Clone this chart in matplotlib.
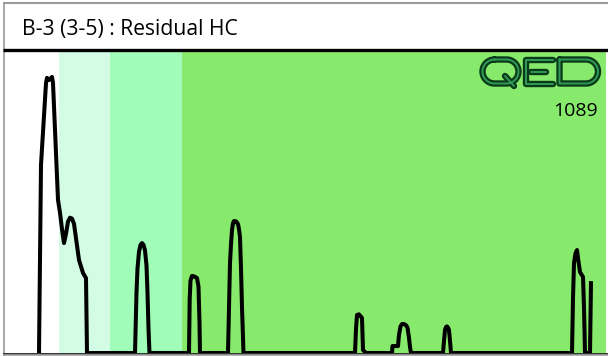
import matplotlib
matplotlib.use("Agg")
import matplotlib.pyplot as plt
from matplotlib.lines import Line2D
from matplotlib.patches import PathPatch
from matplotlib.path import Path
from matplotlib.transforms import Affine2D

# ---- data ----
title = "B-3 (3-5) : Residual HC"
label_value = "1089"

zone_edges = [4, 59, 110, 181, 606]
zone_colors = ["#ffffff", "#d4fce4", "#a0fcb8", "#88ea6c"]

depth = [39, 41, 46, 47, 49, 52, 53, 58, 60, 62, 64, 66, 68, 70, 72, 74, 76, 79, 83, 86, 87,
         135, 136.5, 137.5, 139, 140.5, 142, 143.5, 145, 146.5, 147.5, 148.5, 149.5,
         189, 189.7, 190.5, 192, 194, 197, 198.5, 199.5, 200,
         228, 229, 230, 231, 232, 233, 234, 236, 238, 239, 240, 241, 242, 243.5,
         355, 356, 357, 359, 362, 363, 366,
         392, 392.5, 397, 398, 399, 400.5, 402, 404, 406, 407.5, 409, 410, 411,
         443, 444, 445, 446, 447, 448, 449, 450, 451,
         572, 573, 574, 575.5, 577, 578, 580, 583, 584, 585,
         590, 591]
hc = [0, 62.3, 89.4, 91.1, 90.4, 91.4, 89.4, 50.7, 46.4, 41, 36.4, 39.5, 43.5, 44.8, 44.5, 42.8, 38, 30.8, 26.5, 24.8, 0,
      0, 20, 28, 33.5, 35.8, 36.4, 35.8, 34, 29, 20, 8, 0,
      0, 18, 24, 25.5, 25.4, 24.8, 22, 10, 0,
      0, 15, 29.8, 36, 40.7, 43, 43.7, 43.6, 42.7, 41, 38.4, 28, 15.2, 0,
      0, 8, 12.6, 12.8, 11.6, 1.0, 0,
      0, 2.3, 2.3, 2.3, 6, 8.8, 9.6, 9.6, 9.2, 8.4, 5, 2.0, 0,
      0, 4, 7.6, 8.6, 8.8, 8.4, 7.6, 4, 0,
      0, 18, 29.8, 33, 34.1, 31.5, 26.8, 25.2, 15, 0,
      0, 23.8]

W, H = 608, 356
fig = plt.figure(figsize=(W / 100, H / 100), dpi=100)
fig.patch.set_facecolor("white")

# plot area in pixels
x0, x1 = 4, 606
y_top, y_bot = 51, 353
ax = fig.add_axes([x0 / W, (H - y_bot) / H, (x1 - x0) / W, (y_bot - y_top) / H])
ax.set_xlim(zone_edges[0], zone_edges[-1])
ax.set_ylim(0, 100)
ax.set_xticks([])
ax.set_yticks([])
for s in ["left", "right", "top", "bottom"]:
    ax.spines[s].set_visible(False)

for i, c in enumerate(zone_colors):
    ax.axvspan(zone_edges[i], zone_edges[i + 1], color=c, lw=0, zorder=0)
ax.axvline(zone_edges[3], color="#a8f4c8", lw=0.8, zorder=1)

ax.plot(depth, hc, color="black", lw=2.9, solid_joinstyle="round",
        solid_capstyle="butt", zorder=3, clip_on=False)

# pixel -> figure transform (y measured from top)
pix = Affine2D().scale(1 / W, -1 / H).translate(0, 1) + fig.transFigure

def fline(xs, ys, color, lw):
    fig.add_artist(Line2D(xs, ys, transform=pix, color=color, lw=lw,
                          solid_capstyle="butt"))

fline([3.5, 3.5], [2, 356], "#9a9a9a", 1.2)
fline([3, 608], [2.5, 2.5], "#9a9a9a", 1.5)
fline([3, 608], [49.5, 49.5], "black", 2.4)
fline([3, 608], [353.5, 353.5], "#303030", 1.4)
fline([3, 608], [355.2, 355.2], "#a0a0a0", 1.2)

# title
fig.text(22 / W, 1 - 35.5 / H, title, fontsize=15.2, family="Open Sans",
         color="black", va="baseline", ha="left")

# value label
fig.text(598 / W, 1 - 116 / H, label_value, fontsize=14, family="Open Sans",
         color="black", va="baseline", ha="right")

# ---- QED logo drawn as tube-like strokes ----
M, L, C = Path.MOVETO, Path.LINETO, Path.CURVE4

def stadium(xa, xb, ya, yb):
    r = (yb - ya) / 2
    k = 0.5523 * r
    v = [(xa + r, ya), (xb - r, ya),
         (xb - r + k, ya), (xb, ya + r - k), (xb, ya + r),
         (xb, ya + r + k), (xb - r + k, yb), (xb - r, yb),
         (xa + r, yb),
         (xa + r - k, yb), (xa, ya + r + k), (xa, ya + r),
         (xa, ya + r - k), (xa + r - k, ya), (xa + r, ya)]
    c = [M, L, C, C, C, C, C, C, L, C, C, C, C, C, C]
    return Path(v, c)

paths = []
# Q
paths.append(stadium(482.5, 518.5, 59.5, 83.5))
paths.append(Path([(505, 76), (514, 86)], [M, L]))
# E
paths.append(Path([(553, 59.5), (526, 59.5), (526, 83.5), (553, 83.5)], [M, L, L, L]))
paths.append(Path([(531, 71.5), (546, 71.5)], [M, L]))
# D
r = 12.0
k = 0.5523 * r
paths.append(Path([(559.5, 59.5), (598 - r, 59.5),
                   (598 - r + k, 59.5), (598, 59.5 + r - k), (598, 59.5 + r),
                   (598, 59.5 + r + k), (598 - r + k, 83.5), (598 - r, 83.5),
                   (559.5, 83.5), (559.5, 59.5)],
                  [M, L, C, C, C, C, C, C, L, L]))

for p in paths:
    fig.add_artist(PathPatch(p, facecolor="none", edgecolor="#0a3a1a", lw=4.6,
                             transform=pix, capstyle="round", joinstyle="round"))
for p in paths:
    fig.add_artist(PathPatch(p, facecolor="none", edgecolor="#2f9a55", lw=1.4,
                             transform=pix, capstyle="round", joinstyle="round"))

fig.savefig("out.png", dpi=100)
